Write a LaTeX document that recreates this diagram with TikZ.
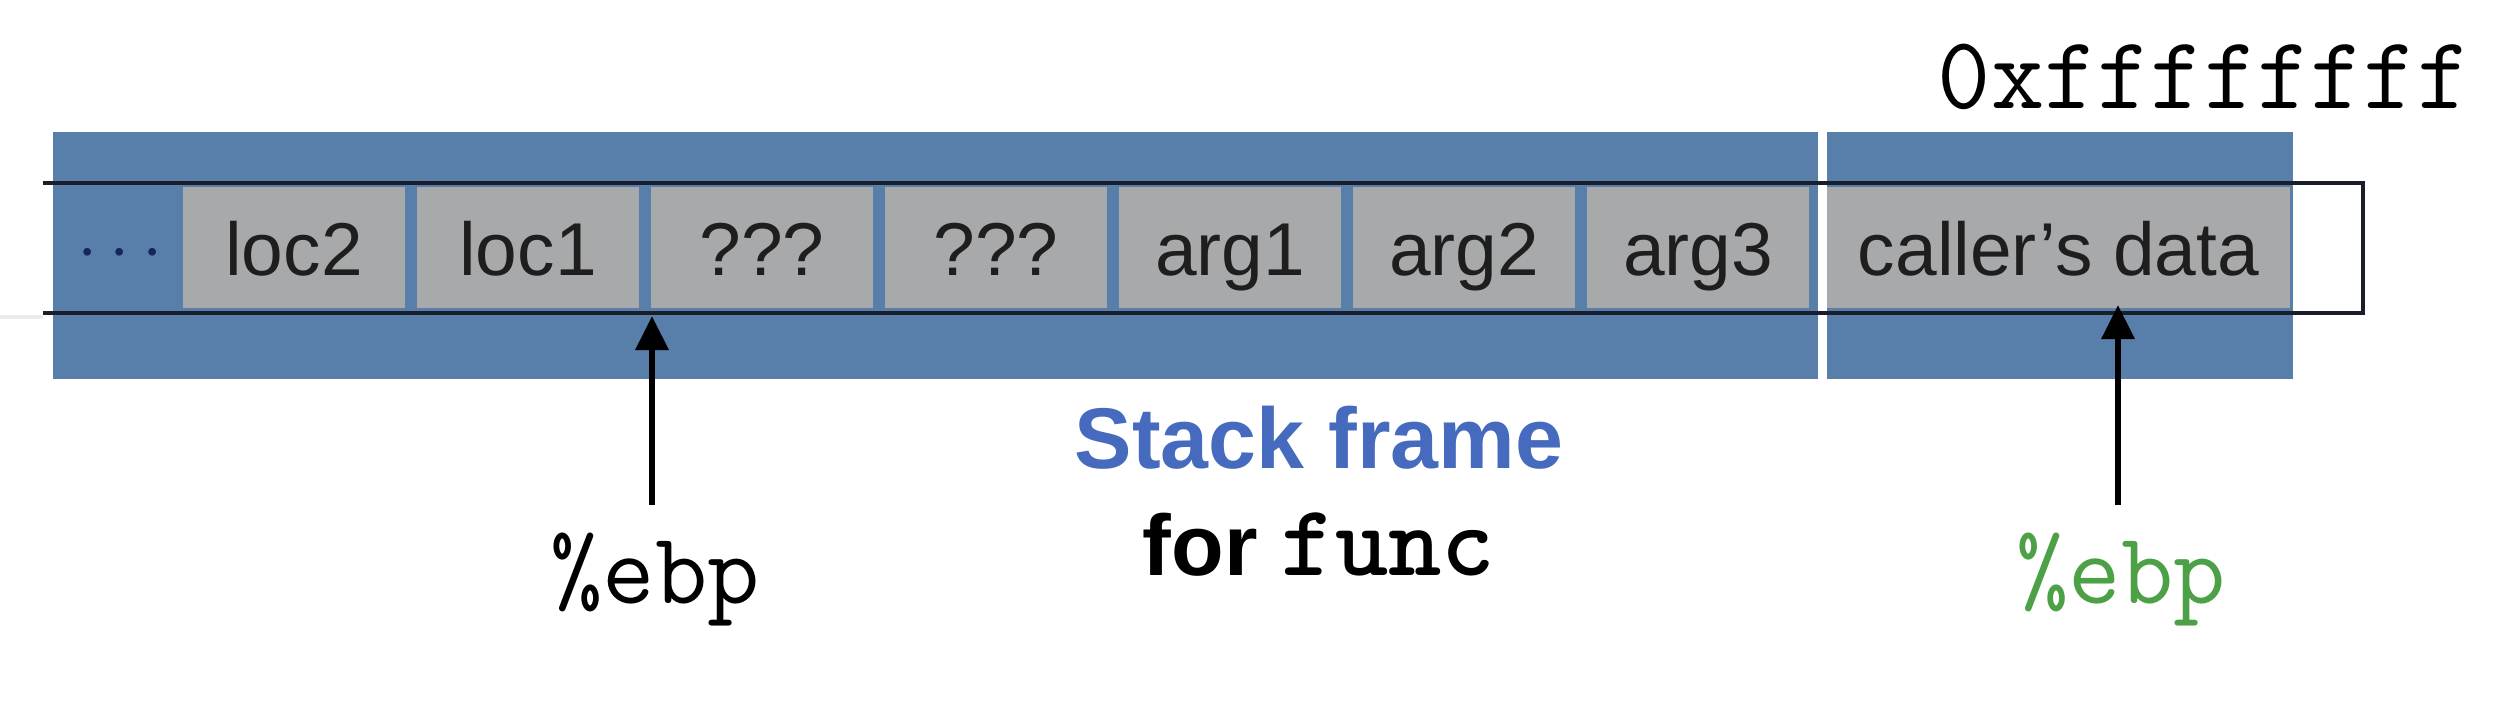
\documentclass[tikz,border=0pt]{standalone}
\usepackage{fontspec}
\setmainfont{Liberation Sans}
\usetikzlibrary{arrows.meta}
\definecolor{frameblue}{RGB}{88,126,170}
\definecolor{cellgray}{RGB}{168,169,170}
\definecolor{titleblue}{RGB}{70,107,190}
\definecolor{ebpgreen}{RGB}{76,160,70}
\definecolor{dotnavy}{RGB}{25,35,95}
\definecolor{linedark}{RGB}{25,30,42}
\definecolor{celltext}{RGB}{30,30,30}
\tikzset{
  cell/.style={fill=cellgray, draw=none, inner sep=0pt, minimum height=1.21cm,
    text=celltext, text height=0.55cm, text depth=0pt,
    font=\fontsize{21.3pt}{24pt}\selectfont},
  monolab/.style={inner sep=0pt, anchor=base, font=\ttfamily\fontsize{28.9pt}{31pt}\selectfont},
  boldlab/.style={inner sep=0pt, anchor=base, font=\bfseries\fontsize{24.5pt}{28pt}\selectfont},
  ptr/.style={line width=1.8pt, -{Triangle[length=0.34cm,width=0.32cm]}},
  rail/.style={draw=linedark, line width=1.1pt}
}
\begin{document}
\begin{tikzpicture}[x=0.01cm,y=-0.01cm]
\useasboundingbox[fill=white] (0,0) rectangle (2500,720);
% blue frames
\fill[frameblue] (53,132) rectangle (1818,379);
\fill[frameblue] (1827,132) rectangle (2293,379);
% faint left line
\draw[gray!15, line width=1pt] (0,317) -- (43,317);
% cells
\foreach \lab [count=\i from 0] in {loc2,loc1,???,???,arg1,arg2,arg3}{
  \node[cell, minimum width=2.22cm] (c\i) at ({294+234*\i},247.5) {\lab};
}
\node[cell, minimum width=4.63cm] (caller) at (2058.5,247.5) {caller’s data};
\node[inner sep=0pt, anchor=base, text=dotnavy, font=\fontsize{20pt}{24pt}\selectfont] (dots) at (120,270) {$\cdots$};
% rails
\draw[rail] (43,183) -- (2363,183) -- (2363,313) -- (43,313);
% labels
\node[monolab, font=\ttfamily\fontsize{29.4pt}{31pt}\selectfont] (top) at (2204,108) {0xffffffff};
\node[boldlab, text=titleblue] (sf) at (1319,468) {Stack frame};
\node[boldlab] (ff) at (1319,575) {for {\ttfamily\fontsize{28.9pt}{31pt}\selectfont\addfontfeature{FakeBold=1.6}func}};
\node[monolab] (ebp1) at (655,603) {\%ebp};
\node[monolab, text=ebpgreen] (ebp2) at (2121,603) {\%ebp};
% pointers
\coordinate (t1) at (652,316);
\coordinate (b1) at (652,505);
\coordinate (t2) at (2118,305);
\coordinate (b2) at (2118,505);
\draw[ptr] (b1) -- (t1);
\draw[ptr] (b2) -- (t2);
\end{tikzpicture}
\end{document}
